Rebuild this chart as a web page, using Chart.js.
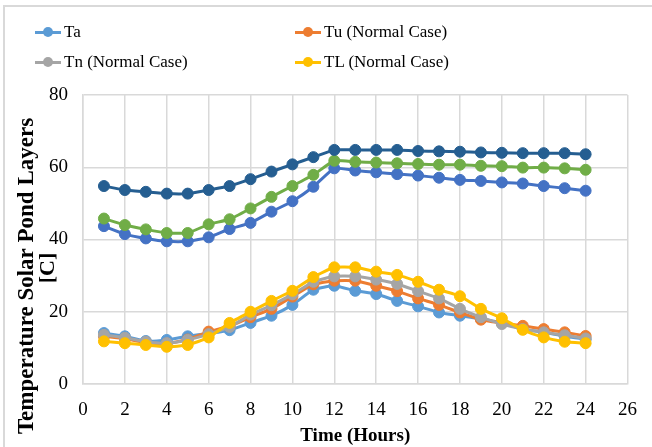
<!DOCTYPE html>
<html><head><meta charset="utf-8">
<script src="https://cdn.jsdelivr.net/npm/chart.js@4/dist/chart.umd.min.js"></script>
<style>
html,body{margin:0;padding:0;background:#fff;}
#wrap{position:relative;width:652px;height:447px;overflow:hidden;background:#fff;}
#frame{position:absolute;left:3px;top:5px;width:700px;height:500px;border-top:2px solid #d9d9d9;border-left:2px solid #d9d9d9;box-sizing:border-box;}
#c{position:absolute;left:0;top:0;}
.leg{position:absolute;height:22px;font-family:"Liberation Serif","Times New Roman",serif;font-size:17px;color:#000;display:flex;align-items:center;white-space:nowrap;}
.mk{position:relative;width:26px;height:3px;margin-right:3px;}
.mk i{position:absolute;left:8px;top:-3.5px;width:10px;height:10px;border-radius:50%;}
</style>
</head><body>
<div id="wrap"><div id="frame"></div><canvas id="c" width="652" height="447"></canvas></div>
<script>
// ---- data ----
const hours = [1,2,3,4,5,6,7,8,9,10,11,12,13,14,15,16,17,18,19,20,21,22,23,24];
const ta  = [14.1,13.2,11.9,12.2,13.2,14.0,14.9,16.9,18.9,21.9,26.1,27.2,25.8,24.9,23.0,21.5,19.8,18.9,18.0,16.9,15.2,14.3,13.2,12.4];
const tuN = [13.2,12.5,11.5,11.2,12.3,14.5,16.0,18.5,20.8,24.2,27.6,28.6,28.6,27.2,25.7,23.7,21.9,19.8,17.8,16.9,16.1,15.2,14.3,13.3];
const tnN = [13.6,12.8,11.7,11.3,12.2,13.8,15.8,19.2,21.8,24.8,28.3,29.8,29.8,28.9,27.7,25.7,23.7,20.8,18.5,16.6,15.2,14.3,13.5,12.6];
const tlN = [11.8,11.3,10.8,10.3,10.8,12.9,16.9,20.0,23.0,25.8,29.6,32.3,32.3,31.1,30.2,28.3,26.1,24.3,20.8,18.2,15.0,12.9,11.7,11.3];
const tuM = [43.7,41.5,40.3,39.5,39.5,40.6,42.9,44.6,47.7,50.6,54.6,59.7,59.1,58.6,58.1,57.7,57.1,56.5,56.2,55.8,55.5,54.8,54.2,53.5];
const tnM = [45.8,44.0,42.8,41.8,41.8,44.2,45.6,48.6,51.8,54.8,57.9,61.8,61.5,61.3,61.1,60.9,60.7,60.7,60.4,60.3,59.9,59.9,59.7,59.3];
const tlM = [54.8,53.7,53.2,52.7,52.7,53.7,54.8,56.7,58.8,60.8,62.8,64.8,64.8,64.8,64.8,64.5,64.4,64.3,64.1,64.0,63.9,63.9,63.9,63.6];
const seriesNames = ["Ta","Tu (Normal Case)","Tn (Normal Case)","TL (Normal Case)","Tu (Modified Case)","Tn (Modified Case)","TL (Modified Case)"];
const legendCount = 4;
const xTicks = [0,2,4,6,8,10,12,14,16,18,20,22,24,26];
const yTicks = [0,20,40,60,80];
const xTitle = "Time (Hours)";
const yTitle = ["Temperature Solar Pond Layers","[C]"];
// --------------------------------------

const colors = ["#5B9BD5","#ED7D31","#A5A5A5","#FFC000","#4472C4","#70AD47","#255E91"];
const values = [ta,tuN,tnN,tlN,tuM,tnM,tlM];
const FONT = '"Liberation Serif","Times New Roman",serif';

const datasets = values.map((v,i)=>({
  label: seriesNames[i],
  data: hours.map((h,k)=>({x:h,y:v[k]})),
  borderColor: colors[i], backgroundColor: colors[i],
  pointBackgroundColor: colors[i], pointBorderColor: colors[i],
  borderWidth: 3, pointRadius: 5.5, pointBorderWidth: 1, tension: 0.15,
  order: values.length - i
}));

const yTitlePlugin = {
  id:'yTitlePlugin',
  afterDraw(chart){
    const ctx = chart.ctx;
    ctx.save();
    ctx.fillStyle = '#000';
    ctx.font = 'bold 23px ' + FONT;
    ctx.textAlign = 'center'; ctx.textBaseline = 'middle';
    ctx.translate(27, 276); ctx.rotate(-Math.PI/2);
    ctx.fillText(yTitle[0], 0, 0);
    ctx.restore();
    ctx.save();
    ctx.fillStyle = '#000';
    ctx.font = 'bold 22px ' + FONT;
    ctx.textAlign = 'center'; ctx.textBaseline = 'middle';
    ctx.translate(48, 268); ctx.rotate(-Math.PI/2);
    ctx.fillText(yTitle[1], 0, 0);
    ctx.restore();
  }
};

new Chart(document.getElementById('c'), {
  type:'line',
  data:{datasets},
  plugins:[yTitlePlugin],
  options:{
    responsive:false, animation:false, devicePixelRatio:1,
    layout:{padding:{top:95,right:14,bottom:0,left:0}},
    plugins:{legend:{display:false}, tooltip:{enabled:false}},
    scales:{
      x:{type:'linear', min:0, max:26,
        afterBuildTicks(s){ s.ticks = xTicks.map(v=>({value:v})); },
        afterFit(s){ s.height = 63; },
        grid:{color:'#d9d9d9', lineWidth:1.5, drawTicks:false},
        border:{display:true,color:'#d9d9d9',width:1.5},
        ticks:{padding:15, color:'#000', font:{family:FONT,size:19}, maxRotation:0, autoSkip:false},
        title:{display:true, text:xTitle, color:'#000', font:{family:FONT,size:19,weight:'bold'}, padding:{top:0,bottom:0}}
      },
      y:{type:'linear', min:0, max:80,
        afterBuildTicks(s){ s.ticks = yTicks.map(v=>({value:v})); },
        afterFit(s){ s.width = 83; },
        grid:{color:'#d9d9d9', lineWidth:1.5, drawTicks:false},
        border:{display:true,color:'#d9d9d9',width:1.5},
        ticks:{padding:15, color:'#000', font:{family:FONT,size:19}}
      }
    }
  }
});

// HTML legend (first four series, two columns)
const wrap = document.getElementById('wrap');
const legPos = [[35,32],[295,32],[35,62],[295,62]];
for(let i=0;i<legendCount;i++){
  const d = document.createElement('div');
  d.className='leg';
  d.style.left = legPos[i][0]+'px';
  d.style.top = (legPos[i][1]-11)+'px';
  d.innerHTML = '<span class="mk" style="background:'+colors[i]+'"><i style="background:'+colors[i]+'"></i></span>';
  d.appendChild(document.createTextNode(seriesNames[i]));
  wrap.appendChild(d);
}
</script>
</body></html>
